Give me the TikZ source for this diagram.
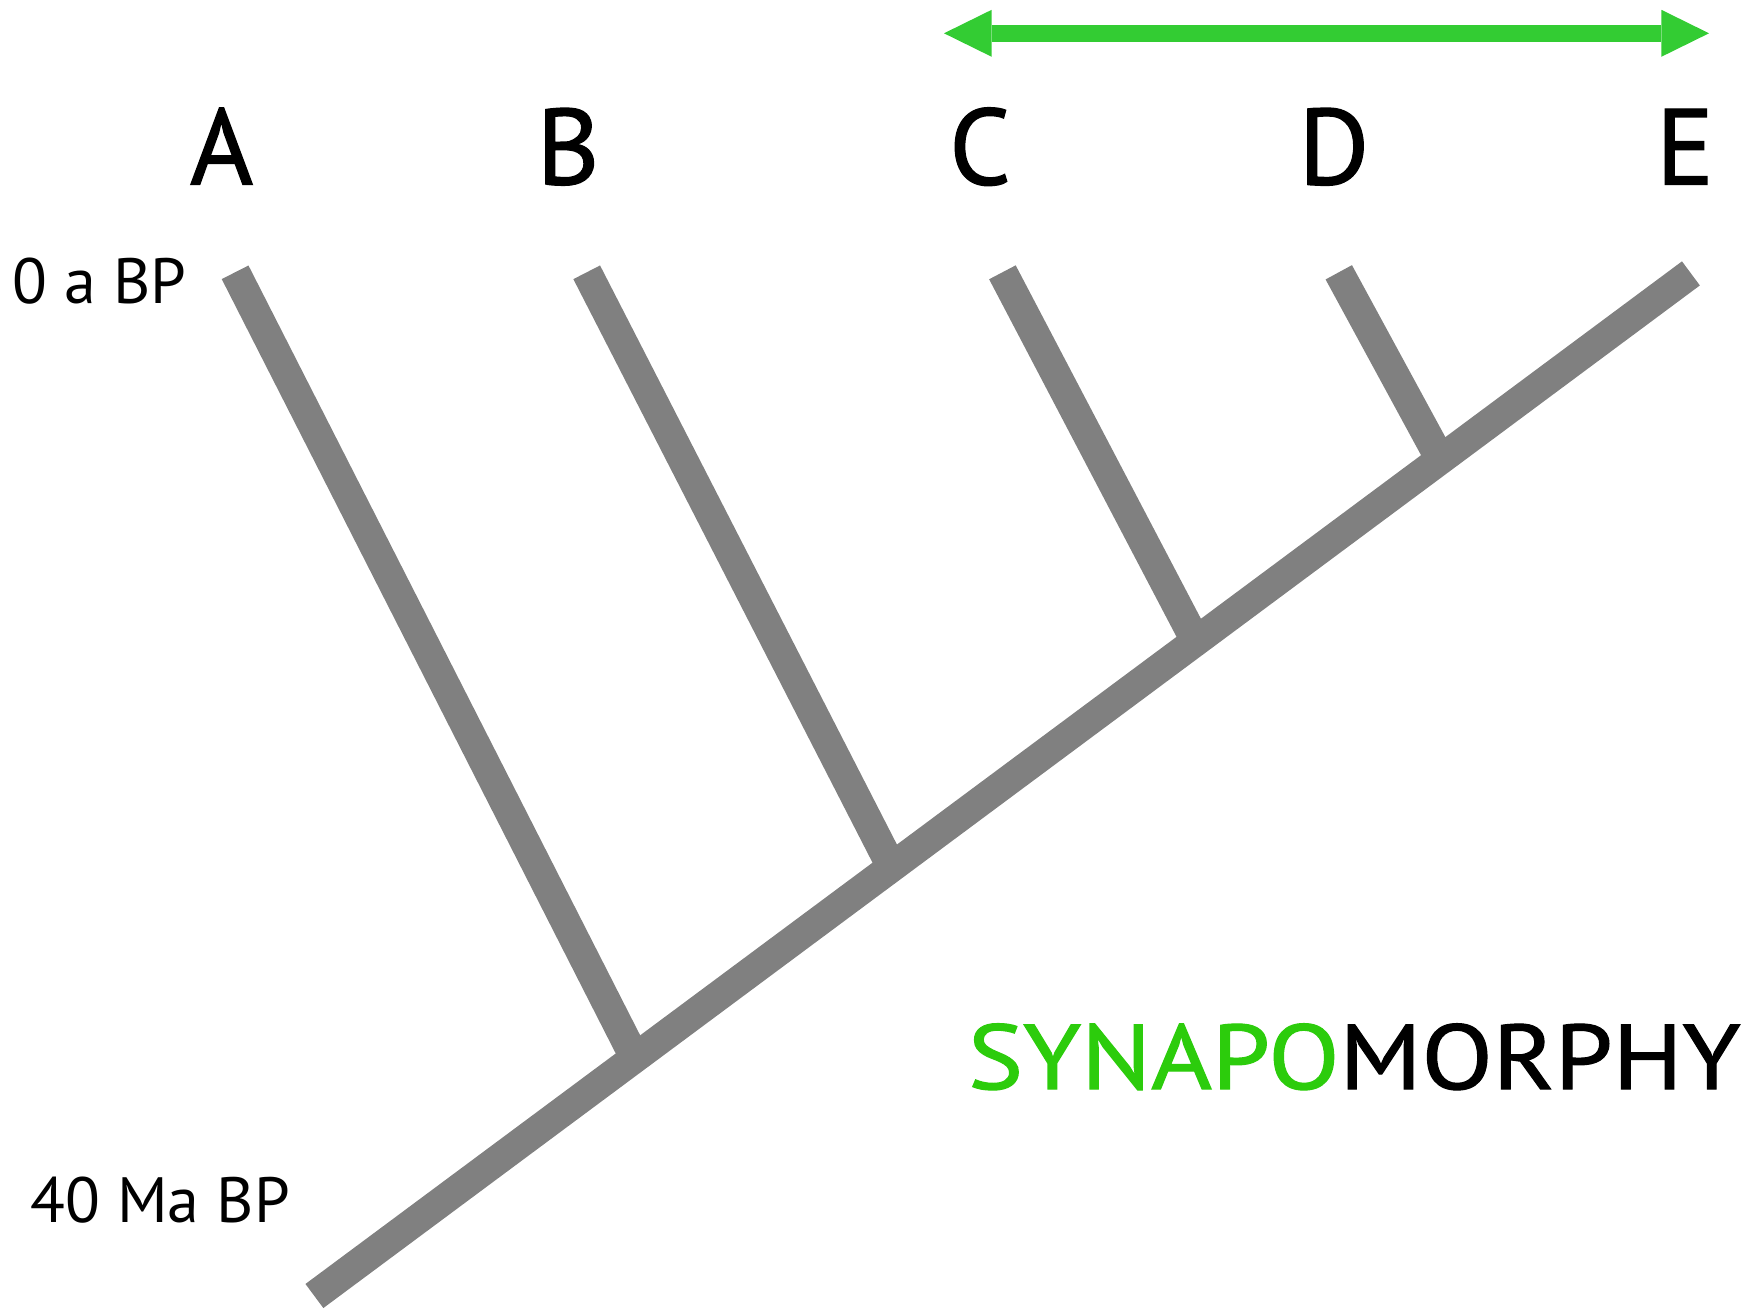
\documentclass[tikz,border=0pt]{standalone}
\usepackage{fontspec}
\setmainfont{PT Sans}
\newfontface\heavyface{PT Sans}[FakeBold=1.2]
\usetikzlibrary{arrows.meta}
\definecolor{branchgray}{RGB}{128,128,128}
\definecolor{arrowgreen}{RGB}{51,204,51}
\definecolor{textgreen}{RGB}{44,204,12}
\begin{document}
\begin{tikzpicture}[x=0.5pt,y=-0.5pt,
  branch/.style={draw=branchgray,line width=15pt,line cap=butt},
  taxon/.style={font=\heavyface\fontsize{54}{54}\selectfont,anchor=base,inner sep=0pt},
  timelabel/.style={font=\fontsize{32}{32}\selectfont,anchor=base west,inner sep=0pt},
  biglabel/.style={font=\heavyface\fontsize{46}{46}\selectfont,anchor=base west,inner sep=0pt,xscale=1.13},
  rangearrow/.style={draw=arrowgreen,fill=arrowgreen,line width=8.6pt,{Triangle[length=23.85pt,width=23.5pt,line width=0pt]}-{Triangle[length=23.85pt,width=23.5pt,line width=0pt]}}]
\useasboundingbox (0,0) rectangle (1764,1310);
% trunk
\coordinate (t0) at (314.4,1296);
\coordinate (t1) at (1690.9,273.4);
% branch tips and directions
\coordinate (a0) at (235.1,272.3);  \coordinate (aE) at (627.75,1044);
\coordinate (b0) at (586.7,272.3);  \coordinate (bE) at (884.25,852.75);
\coordinate (c0) at (1002.4,272.3); \coordinate (cE) at (1188,626.6);
\coordinate (d0) at (1338.75,272.3);\coordinate (dE) at (1432.1,444.4);
\coordinate (aJ) at (intersection of a0--aE and t0--t1);
\coordinate (bJ) at (intersection of b0--bE and t0--t1);
\coordinate (cJ) at (intersection of c0--cE and t0--t1);
\coordinate (dJ) at (intersection of d0--dE and t0--t1);
\draw[branch] (a0) -- (aJ);
\draw[branch] (b0) -- (bJ);
\draw[branch] (c0) -- (cJ);
\draw[branch] (d0) -- (dJ);
\draw[branch] (t0) -- (t1);
% taxa
\node[taxon] (A) at (221.6,184.5) {A};
\node[taxon] (B) at (568,184.5) {B};
\node[taxon] (C) at (980,184.5) {C};
\node[taxon] (D) at (1334,184.5) {D};
\node[taxon] (E) at (1685,184.5) {E};
% time labels
\node[timelabel] (now) at (12.4,304) {0 a BP};
\node[timelabel] (past) at (30,1222) {40 Ma BP};
% synapomorphy
\node[biglabel] (syn) at (967.5,1089) {{\color{textgreen}SYNAPO}MORPHY};
% arrow
\coordinate (arrL) at (944,33.3);
\coordinate (arrR) at (1709,33.3);
\draw[rangearrow] (arrL) -- (arrR);
\end{tikzpicture}
\end{document}
